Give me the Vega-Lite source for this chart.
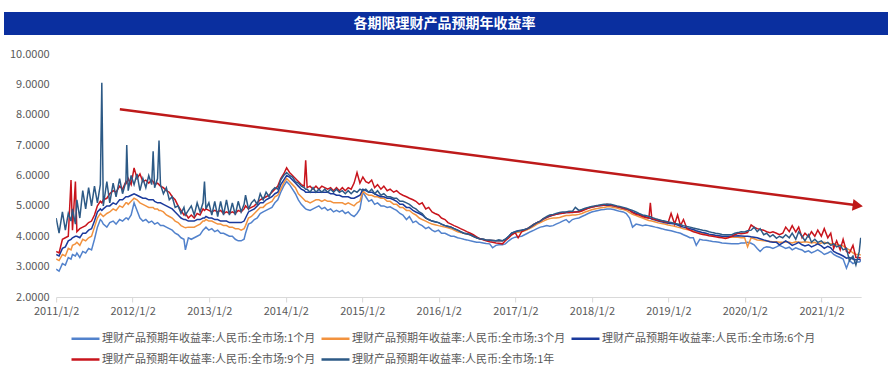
{
  "$schema": "https://vega.github.io/schema/vega-lite/v6.json",
  "padding": {"left": 4, "top": 12, "right": 4, "bottom": 0},
  "background": "white",
  "spacing": 13,
  "center": true,
  "config": {"view": {"stroke": null}, "font": "Noto Sans CJK SC"},
  "datasets": {
    "arrow": [{"d": "2011-11-02", "v": 8.18}, {"d": "2021-06-20", "v": 5.02}],
    "head": [{"d": "2021-06-24", "v": 5.01}],
    "rates": [
{"d":"2011-01-02","a":2.92,"b":3.25,"c":3.4,"e":3.5,"f":4.6},
{"d":"2011-01-16","a":2.85,"b":3.2,"c":3.35,"e":3.45,"f":4.1},
{"d":"2011-02-01","a":3.1,"b":3.4,"c":3.6,"e":3.9,"f":4.8},
{"d":"2011-02-15","a":3.05,"b":3.35,"c":3.65,"e":3.95,"f":4.2},
{"d":"2011-03-01","a":3.3,"b":3.6,"c":3.85,"e":4.0,"f":4.75},
{"d":"2011-03-14","a":3.25,"b":3.55,"c":3.9,"e":5.85,"f":4.5},
{"d":"2011-03-21","a":3.4,"b":3.7,"c":3.95,"e":4.2,"f":4.9},
{"d":"2011-04-04","a":3.35,"b":3.75,"c":4.0,"e":5.8,"f":4.4},
{"d":"2011-04-11","a":3.45,"b":3.8,"c":4.0,"e":4.15,"f":5.2},
{"d":"2011-04-25","a":3.3,"b":3.7,"c":3.95,"e":4.25,"f":4.6},
{"d":"2011-05-09","a":3.5,"b":3.9,"c":4.1,"e":4.3,"f":5.5},
{"d":"2011-05-23","a":3.45,"b":3.85,"c":4.1,"e":4.35,"f":4.9},
{"d":"2011-06-06","a":3.6,"b":3.95,"c":4.2,"e":4.45,"f":5.6},
{"d":"2011-06-20","a":3.55,"b":4.0,"c":4.25,"e":4.5,"f":5.0},
{"d":"2011-07-04","a":3.9,"b":4.3,"c":4.5,"e":4.7,"f":5.65},
{"d":"2011-07-18","a":4.3,"b":4.6,"c":4.8,"e":5.0,"f":5.1},
{"d":"2011-08-01","a":4.55,"b":4.75,"c":4.9,"e":5.15,"f":5.7},
{"d":"2011-08-08","a":4.5,"b":4.7,"c":4.85,"e":5.1,"f":9.05},
{"d":"2011-08-15","a":4.4,"b":4.65,"c":4.9,"e":5.2,"f":5.0},
{"d":"2011-09-01","a":4.3,"b":4.75,"c":5.0,"e":5.25,"f":5.8},
{"d":"2011-09-15","a":4.45,"b":4.8,"c":5.0,"e":5.4,"f":5.1},
{"d":"2011-10-01","a":4.5,"b":4.9,"c":5.1,"e":5.5,"f":5.75},
{"d":"2011-10-15","a":4.4,"b":4.85,"c":5.05,"e":5.45,"f":5.3},
{"d":"2011-11-01","a":4.55,"b":5.0,"c":5.2,"e":5.65,"f":5.9},
{"d":"2011-11-15","a":4.5,"b":4.95,"c":5.2,"e":5.55,"f":5.4},
{"d":"2011-12-01","a":4.6,"b":5.1,"c":5.3,"e":5.8,"f":5.8},
{"d":"2011-12-05","a":4.6,"b":5.1,"c":5.3,"e":5.75,"f":7.0},
{"d":"2011-12-12","a":4.55,"b":5.05,"c":5.3,"e":5.9,"f":5.5},
{"d":"2011-12-26","a":4.7,"b":5.15,"c":5.35,"e":5.7,"f":6.0},
{"d":"2012-01-09","a":5.1,"b":5.25,"c":5.4,"e":6.25,"f":5.7},
{"d":"2012-01-23","a":4.85,"b":5.2,"c":5.35,"e":5.9,"f":6.05},
{"d":"2012-02-06","a":4.6,"b":5.1,"c":5.3,"e":6.05,"f":5.5},
{"d":"2012-02-20","a":4.5,"b":5.05,"c":5.25,"e":5.8,"f":5.9},
{"d":"2012-03-05","a":4.55,"b":5.0,"c":5.25,"e":5.85,"f":5.6},
{"d":"2012-03-19","a":4.45,"b":4.95,"c":5.2,"e":5.75,"f":6.0},
{"d":"2012-04-02","a":4.5,"b":4.95,"c":5.2,"e":5.85,"f":5.7},
{"d":"2012-04-09","a":4.45,"b":4.95,"c":5.2,"e":5.8,"f":6.8},
{"d":"2012-04-16","a":4.4,"b":4.9,"c":5.15,"e":5.7,"f":5.6},
{"d":"2012-04-30","a":4.45,"b":4.9,"c":5.1,"e":5.75,"f":5.9},
{"d":"2012-05-07","a":4.4,"b":4.85,"c":5.1,"e":5.7,"f":7.15},
{"d":"2012-05-14","a":4.35,"b":4.85,"c":5.1,"e":5.65,"f":5.7},
{"d":"2012-05-28","a":4.35,"b":4.8,"c":5.05,"e":5.6,"f":5.4},
{"d":"2012-06-11","a":4.3,"b":4.7,"c":5.0,"e":5.5,"f":5.6},
{"d":"2012-06-25","a":4.25,"b":4.65,"c":4.95,"e":5.45,"f":5.2},
{"d":"2012-07-09","a":4.2,"b":4.6,"c":4.9,"e":5.3,"f":5.3},
{"d":"2012-07-23","a":4.1,"b":4.5,"c":4.8,"e":5.2,"f":4.95},
{"d":"2012-08-06","a":4.05,"b":4.45,"c":4.7,"e":5.0,"f":5.0},
{"d":"2012-08-20","a":3.95,"b":4.35,"c":4.6,"e":4.85,"f":4.75},
{"d":"2012-09-03","a":3.9,"b":4.3,"c":4.55,"e":4.7,"f":4.95},
{"d":"2012-09-10","a":3.55,"b":4.28,"c":4.55,"e":4.75,"f":4.7},
{"d":"2012-09-24","a":3.95,"b":4.3,"c":4.5,"e":4.6,"f":4.85},
{"d":"2012-10-08","a":3.9,"b":4.3,"c":4.5,"e":4.7,"f":5.0},
{"d":"2012-10-22","a":3.95,"b":4.3,"c":4.5,"e":4.6,"f":4.7},
{"d":"2012-11-05","a":4.0,"b":4.35,"c":4.55,"e":4.75,"f":5.1},
{"d":"2012-11-19","a":4.05,"b":4.4,"c":4.55,"e":4.7,"f":4.8},
{"d":"2012-12-03","a":4.2,"b":4.5,"c":4.6,"e":4.9,"f":5.1},
{"d":"2012-12-10","a":4.25,"b":4.5,"c":4.6,"e":4.85,"f":5.8},
{"d":"2012-12-17","a":4.3,"b":4.55,"c":4.65,"e":4.9,"f":4.9},
{"d":"2012-12-31","a":4.2,"b":4.5,"c":4.6,"e":4.85,"f":5.1},
{"d":"2013-01-14","a":4.25,"b":4.5,"c":4.6,"e":4.8,"f":4.7},
{"d":"2013-01-28","a":4.15,"b":4.45,"c":4.55,"e":4.85,"f":5.15},
{"d":"2013-02-11","a":4.2,"b":4.4,"c":4.55,"e":4.8,"f":4.65},
{"d":"2013-02-25","a":4.1,"b":4.4,"c":4.5,"e":4.85,"f":5.15},
{"d":"2013-03-11","a":4.1,"b":4.35,"c":4.5,"e":4.75,"f":4.7},
{"d":"2013-03-25","a":4.05,"b":4.35,"c":4.5,"e":4.8,"f":5.2},
{"d":"2013-04-08","a":4.0,"b":4.3,"c":4.45,"e":4.75,"f":4.7},
{"d":"2013-04-22","a":4.0,"b":4.3,"c":4.45,"e":4.8,"f":5.1},
{"d":"2013-05-06","a":3.9,"b":4.25,"c":4.45,"e":4.75,"f":4.7},
{"d":"2013-05-20","a":3.85,"b":4.25,"c":4.45,"e":4.85,"f":5.15},
{"d":"2013-06-03","a":3.85,"b":4.2,"c":4.45,"e":4.8,"f":4.8},
{"d":"2013-06-17","a":3.9,"b":4.25,"c":4.5,"e":4.9,"f":5.05},
{"d":"2013-06-24","a":4.1,"b":4.35,"c":4.6,"e":5.0,"f":5.35},
{"d":"2013-07-08","a":4.4,"b":4.6,"c":4.8,"e":4.9,"f":4.9},
{"d":"2013-07-22","a":4.45,"b":4.65,"c":4.85,"e":4.95,"f":5.1},
{"d":"2013-08-05","a":4.55,"b":4.75,"c":4.9,"e":5.0,"f":5.2},
{"d":"2013-08-19","a":4.6,"b":4.85,"c":5.0,"e":5.1,"f":5.05},
{"d":"2013-09-02","a":4.75,"b":4.95,"c":5.1,"e":5.2,"f":5.4},
{"d":"2013-09-16","a":4.8,"b":4.95,"c":5.1,"e":5.25,"f":5.2},
{"d":"2013-09-30","a":4.85,"b":5.05,"c":5.2,"e":5.3,"f":5.45},
{"d":"2013-10-14","a":4.9,"b":5.1,"c":5.25,"e":5.35,"f":5.3},
{"d":"2013-10-28","a":4.95,"b":5.15,"c":5.3,"e":5.45,"f":5.5},
{"d":"2013-11-11","a":5.1,"b":5.3,"c":5.4,"e":5.55,"f":5.6},
{"d":"2013-11-25","a":5.2,"b":5.35,"c":5.45,"e":5.65,"f":5.55},
{"d":"2013-12-09","a":5.45,"b":5.55,"c":5.7,"e":5.9,"f":5.85},
{"d":"2013-12-23","a":5.65,"b":5.75,"c":5.85,"e":6.05,"f":6.0},
{"d":"2014-01-06","a":5.8,"b":5.9,"c":6.0,"e":6.25,"f":6.1},
{"d":"2014-01-20","a":5.7,"b":5.8,"c":5.95,"e":6.1,"f":6.0},
{"d":"2014-02-03","a":5.55,"b":5.7,"c":5.85,"e":6.0,"f":5.95},
{"d":"2014-02-17","a":5.4,"b":5.6,"c":5.75,"e":5.9,"f":5.8},
{"d":"2014-03-03","a":5.2,"b":5.4,"c":5.65,"e":5.8,"f":5.75},
{"d":"2014-03-17","a":5.05,"b":5.3,"c":5.55,"e":5.7,"f":5.65},
{"d":"2014-03-31","a":4.95,"b":5.2,"c":5.5,"e":5.65,"f":5.6},
{"d":"2014-04-07","a":4.9,"b":5.15,"c":5.45,"e":6.5,"f":5.55},
{"d":"2014-04-14","a":4.88,"b":5.15,"c":5.45,"e":5.6,"f":5.55},
{"d":"2014-04-28","a":4.85,"b":5.1,"c":5.45,"e":5.65,"f":5.45},
{"d":"2014-05-12","a":4.9,"b":5.15,"c":5.45,"e":5.55,"f":5.6},
{"d":"2014-05-26","a":4.95,"b":5.2,"c":5.45,"e":5.65,"f":5.45},
{"d":"2014-06-09","a":5.0,"b":5.2,"c":5.45,"e":5.55,"f":5.55},
{"d":"2014-06-23","a":4.9,"b":5.15,"c":5.45,"e":5.65,"f":5.45},
{"d":"2014-07-07","a":4.95,"b":5.2,"c":5.45,"e":5.6,"f":5.55},
{"d":"2014-07-21","a":4.85,"b":5.15,"c":5.45,"e":5.55,"f":5.45},
{"d":"2014-08-04","a":4.9,"b":5.15,"c":5.4,"e":5.6,"f":5.55},
{"d":"2014-08-18","a":4.8,"b":5.1,"c":5.4,"e":5.5,"f":5.45},
{"d":"2014-09-01","a":4.85,"b":5.1,"c":5.35,"e":5.6,"f":5.55},
{"d":"2014-09-15","a":4.8,"b":5.1,"c":5.35,"e":5.5,"f":5.45},
{"d":"2014-09-29","a":4.85,"b":5.1,"c":5.3,"e":5.6,"f":5.5},
{"d":"2014-10-13","a":4.75,"b":5.05,"c":5.3,"e":5.5,"f":5.4},
{"d":"2014-10-27","a":4.8,"b":5.1,"c":5.3,"e":5.6,"f":5.5},
{"d":"2014-11-10","a":4.7,"b":5.05,"c":5.25,"e":5.55,"f":5.4},
{"d":"2014-11-24","a":4.65,"b":5.0,"c":5.25,"e":5.75,"f":5.5},
{"d":"2014-12-08","a":4.75,"b":5.1,"c":5.3,"e":6.1,"f":5.45},
{"d":"2014-12-22","a":4.9,"b":5.15,"c":5.35,"e":5.75,"f":5.55},
{"d":"2015-01-05","a":5.45,"b":5.5,"c":5.55,"e":5.95,"f":5.5},
{"d":"2015-01-19","a":5.3,"b":5.4,"c":5.5,"e":5.8,"f":5.55},
{"d":"2015-02-02","a":5.15,"b":5.35,"c":5.45,"e":5.75,"f":5.45},
{"d":"2015-02-16","a":5.2,"b":5.35,"c":5.45,"e":5.85,"f":5.55},
{"d":"2015-03-02","a":5.05,"b":5.3,"c":5.4,"e":5.6,"f":5.4},
{"d":"2015-03-16","a":5.1,"b":5.3,"c":5.35,"e":5.7,"f":5.5},
{"d":"2015-04-01","a":5.0,"b":5.25,"c":5.3,"e":5.55,"f":5.35},
{"d":"2015-04-15","a":5.0,"b":5.25,"c":5.3,"e":5.65,"f":5.4},
{"d":"2015-05-01","a":4.95,"b":5.15,"c":5.25,"e":5.5,"f":5.3},
{"d":"2015-05-15","a":4.97,"b":5.15,"c":5.25,"e":5.55,"f":5.3},
{"d":"2015-06-01","a":4.9,"b":5.05,"c":5.2,"e":5.45,"f":5.25},
{"d":"2015-06-15","a":4.85,"b":5.05,"c":5.15,"e":5.5,"f":5.25},
{"d":"2015-07-01","a":4.75,"b":4.95,"c":5.05,"e":5.4,"f":5.15},
{"d":"2015-07-15","a":4.7,"b":4.95,"c":5.05,"e":5.35,"f":5.15},
{"d":"2015-08-01","a":4.55,"b":4.85,"c":4.95,"e":5.3,"f":5.1},
{"d":"2015-08-15","a":4.65,"b":4.85,"c":4.95,"e":5.25,"f":5.05},
{"d":"2015-09-01","a":4.45,"b":4.75,"c":4.85,"e":5.2,"f":4.95},
{"d":"2015-09-15","a":4.5,"b":4.7,"c":4.8,"e":5.15,"f":4.9},
{"d":"2015-10-01","a":4.4,"b":4.6,"c":4.75,"e":5.05,"f":4.8},
{"d":"2015-10-15","a":4.35,"b":4.55,"c":4.7,"e":5.1,"f":4.75},
{"d":"2015-11-01","a":4.25,"b":4.5,"c":4.6,"e":4.9,"f":4.6},
{"d":"2015-11-15","a":4.3,"b":4.45,"c":4.55,"e":4.95,"f":4.55},
{"d":"2015-12-01","a":4.2,"b":4.4,"c":4.5,"e":4.8,"f":4.5},
{"d":"2015-12-15","a":4.15,"b":4.38,"c":4.48,"e":4.75,"f":4.48},
{"d":"2016-01-01","a":4.2,"b":4.35,"c":4.45,"e":4.7,"f":4.45},
{"d":"2016-01-15","a":4.1,"b":4.33,"c":4.4,"e":4.6,"f":4.4},
{"d":"2016-02-01","a":4.1,"b":4.3,"c":4.35,"e":4.55,"f":4.35},
{"d":"2016-02-15","a":4.05,"b":4.28,"c":4.32,"e":4.45,"f":4.33},
{"d":"2016-03-01","a":4.0,"b":4.25,"c":4.3,"e":4.4,"f":4.3},
{"d":"2016-03-15","a":4.0,"b":4.2,"c":4.25,"e":4.35,"f":4.25},
{"d":"2016-04-01","a":3.95,"b":4.15,"c":4.2,"e":4.3,"f":4.2},
{"d":"2016-04-15","a":3.93,"b":4.12,"c":4.15,"e":4.25,"f":4.15},
{"d":"2016-05-01","a":3.9,"b":4.1,"c":4.1,"e":4.2,"f":4.1},
{"d":"2016-05-15","a":3.88,"b":4.07,"c":4.08,"e":4.15,"f":4.08},
{"d":"2016-06-01","a":3.85,"b":4.05,"c":4.05,"e":4.1,"f":4.05},
{"d":"2016-06-15","a":3.83,"b":4.0,"c":4.0,"e":4.05,"f":4.0},
{"d":"2016-07-01","a":3.8,"b":3.95,"c":3.95,"e":3.98,"f":3.95},
{"d":"2016-07-15","a":3.8,"b":3.92,"c":3.92,"e":3.92,"f":3.92},
{"d":"2016-08-01","a":3.78,"b":3.9,"c":3.9,"e":3.88,"f":3.9},
{"d":"2016-08-15","a":3.76,"b":3.88,"c":3.88,"e":3.85,"f":3.88},
{"d":"2016-09-01","a":3.75,"b":3.87,"c":3.87,"e":3.82,"f":3.87},
{"d":"2016-09-15","a":3.62,"b":3.86,"c":3.86,"e":3.8,"f":3.86},
{"d":"2016-10-01","a":3.7,"b":3.85,"c":3.85,"e":3.78,"f":3.85},
{"d":"2016-10-15","a":3.72,"b":3.84,"c":3.85,"e":3.77,"f":3.88},
{"d":"2016-11-01","a":3.72,"b":3.85,"c":3.85,"e":3.75,"f":3.85},
{"d":"2016-11-15","a":3.75,"b":3.88,"c":3.9,"e":3.85,"f":3.9},
{"d":"2016-12-01","a":3.85,"b":3.95,"c":4.0,"e":3.95,"f":4.0},
{"d":"2016-12-15","a":3.92,"b":4.05,"c":4.1,"e":4.05,"f":4.1},
{"d":"2017-01-01","a":3.97,"b":4.12,"c":4.15,"e":4.12,"f":4.15},
{"d":"2017-01-15","a":3.98,"b":4.13,"c":4.18,"e":3.95,"f":4.17},
{"d":"2017-02-01","a":4.0,"b":4.15,"c":4.2,"e":4.15,"f":4.2},
{"d":"2017-02-15","a":4.05,"b":4.18,"c":4.22,"e":4.2,"f":4.22},
{"d":"2017-03-01","a":4.1,"b":4.22,"c":4.25,"e":4.25,"f":4.25},
{"d":"2017-03-15","a":4.15,"b":4.27,"c":4.3,"e":4.32,"f":4.32},
{"d":"2017-04-01","a":4.2,"b":4.33,"c":4.38,"e":4.4,"f":4.4},
{"d":"2017-04-15","a":4.25,"b":4.4,"c":4.45,"e":4.45,"f":4.45},
{"d":"2017-05-01","a":4.3,"b":4.45,"c":4.5,"e":4.5,"f":4.5},
{"d":"2017-05-15","a":4.32,"b":4.5,"c":4.57,"e":4.57,"f":4.58},
{"d":"2017-06-01","a":4.35,"b":4.55,"c":4.62,"e":4.62,"f":4.65},
{"d":"2017-06-15","a":4.33,"b":4.58,"c":4.66,"e":4.67,"f":4.7},
{"d":"2017-07-01","a":4.35,"b":4.6,"c":4.7,"e":4.7,"f":4.72},
{"d":"2017-07-15","a":4.4,"b":4.6,"c":4.72,"e":4.72,"f":4.75},
{"d":"2017-08-01","a":4.45,"b":4.62,"c":4.75,"e":4.75,"f":4.78},
{"d":"2017-08-15","a":4.5,"b":4.65,"c":4.76,"e":4.76,"f":4.8},
{"d":"2017-09-01","a":4.55,"b":4.68,"c":4.78,"e":4.78,"f":4.8},
{"d":"2017-09-15","a":4.45,"b":4.68,"c":4.78,"e":4.78,"f":4.82},
{"d":"2017-10-01","a":4.55,"b":4.7,"c":4.8,"e":4.78,"f":4.82},
{"d":"2017-10-15","a":4.58,"b":4.7,"c":4.8,"e":4.8,"f":4.95},
{"d":"2017-11-01","a":4.6,"b":4.72,"c":4.82,"e":4.8,"f":4.85},
{"d":"2017-11-15","a":4.65,"b":4.75,"c":4.85,"e":4.83,"f":4.88},
{"d":"2017-12-01","a":4.7,"b":4.8,"c":4.9,"e":4.88,"f":4.92},
{"d":"2017-12-15","a":4.75,"b":4.83,"c":4.93,"e":4.92,"f":4.95},
{"d":"2018-01-01","a":4.8,"b":4.87,"c":4.97,"e":4.95,"f":4.98},
{"d":"2018-01-15","a":4.82,"b":4.9,"c":4.98,"e":4.98,"f":5.0},
{"d":"2018-02-01","a":4.85,"b":4.92,"c":5.0,"e":5.0,"f":5.02},
{"d":"2018-02-15","a":4.87,"b":4.94,"c":5.01,"e":5.01,"f":5.04},
{"d":"2018-03-01","a":4.88,"b":4.95,"c":5.02,"e":5.02,"f":5.05},
{"d":"2018-03-15","a":4.9,"b":4.97,"c":5.02,"e":5.05,"f":5.05},
{"d":"2018-04-01","a":4.9,"b":4.97,"c":5.02,"e":5.03,"f":5.05},
{"d":"2018-04-15","a":4.88,"b":4.95,"c":5.0,"e":5.0,"f":5.03},
{"d":"2018-05-01","a":4.85,"b":4.93,"c":4.98,"e":4.98,"f":5.0},
{"d":"2018-05-15","a":4.82,"b":4.9,"c":4.95,"e":4.95,"f":4.98},
{"d":"2018-06-01","a":4.8,"b":4.88,"c":4.92,"e":4.92,"f":4.95},
{"d":"2018-06-15","a":4.75,"b":4.85,"c":4.9,"e":4.9,"f":4.92},
{"d":"2018-07-01","a":4.6,"b":4.78,"c":4.85,"e":4.85,"f":4.88},
{"d":"2018-07-15","a":4.3,"b":4.72,"c":4.8,"e":4.78,"f":4.85},
{"d":"2018-08-01","a":4.4,"b":4.68,"c":4.75,"e":4.72,"f":4.8},
{"d":"2018-08-15","a":4.38,"b":4.64,"c":4.72,"e":4.7,"f":4.75},
{"d":"2018-09-01","a":4.35,"b":4.6,"c":4.68,"e":4.65,"f":4.7},
{"d":"2018-09-15","a":4.37,"b":4.56,"c":4.64,"e":4.62,"f":4.68},
{"d":"2018-10-01","a":4.35,"b":4.52,"c":4.6,"e":4.6,"f":4.65},
{"d":"2018-10-08","a":4.34,"b":4.51,"c":4.59,"e":5.1,"f":4.64},
{"d":"2018-10-15","a":4.33,"b":4.5,"c":4.57,"e":4.58,"f":4.62},
{"d":"2018-11-01","a":4.3,"b":4.47,"c":4.53,"e":4.55,"f":4.58},
{"d":"2018-11-15","a":4.28,"b":4.44,"c":4.5,"e":4.52,"f":4.55},
{"d":"2018-12-01","a":4.25,"b":4.42,"c":4.48,"e":4.5,"f":4.52},
{"d":"2018-12-15","a":4.22,"b":4.4,"c":4.45,"e":4.48,"f":4.5},
{"d":"2019-01-01","a":4.2,"b":4.37,"c":4.43,"e":4.45,"f":4.47},
{"d":"2019-01-15","a":4.18,"b":4.35,"c":4.42,"e":4.75,"f":4.45},
{"d":"2019-02-01","a":4.15,"b":4.33,"c":4.4,"e":4.4,"f":4.42},
{"d":"2019-02-15","a":4.12,"b":4.3,"c":4.37,"e":4.7,"f":4.4},
{"d":"2019-03-01","a":4.1,"b":4.28,"c":4.33,"e":4.35,"f":4.38},
{"d":"2019-03-15","a":4.05,"b":4.25,"c":4.3,"e":4.55,"f":4.35},
{"d":"2019-04-01","a":4.0,"b":4.22,"c":4.27,"e":4.25,"f":4.32},
{"d":"2019-04-15","a":3.95,"b":4.2,"c":4.25,"e":4.2,"f":4.3},
{"d":"2019-05-01","a":3.95,"b":4.17,"c":4.22,"e":4.15,"f":4.27},
{"d":"2019-05-15","a":3.7,"b":4.15,"c":4.18,"e":4.12,"f":4.25},
{"d":"2019-06-01","a":3.9,"b":4.12,"c":4.15,"e":4.08,"f":4.22},
{"d":"2019-06-15","a":3.88,"b":4.1,"c":4.12,"e":4.06,"f":4.2},
{"d":"2019-07-01","a":3.87,"b":4.08,"c":4.1,"e":4.04,"f":4.18},
{"d":"2019-07-15","a":3.85,"b":4.05,"c":4.07,"e":4.02,"f":4.15},
{"d":"2019-08-01","a":3.83,"b":4.03,"c":4.05,"e":4.0,"f":4.12},
{"d":"2019-08-15","a":3.82,"b":4.02,"c":4.03,"e":3.98,"f":4.1},
{"d":"2019-09-01","a":3.8,"b":4.0,"c":4.02,"e":3.96,"f":4.08},
{"d":"2019-09-15","a":3.78,"b":3.98,"c":4.0,"e":3.95,"f":4.06},
{"d":"2019-10-01","a":3.77,"b":3.97,"c":4.0,"e":3.93,"f":4.05},
{"d":"2019-10-15","a":3.76,"b":3.97,"c":4.0,"e":3.95,"f":4.05},
{"d":"2019-11-01","a":3.75,"b":3.97,"c":4.0,"e":4.0,"f":4.05},
{"d":"2019-11-15","a":3.75,"b":3.97,"c":4.01,"e":4.05,"f":4.1},
{"d":"2019-12-01","a":3.75,"b":3.97,"c":4.02,"e":4.1,"f":4.12},
{"d":"2019-12-15","a":3.78,"b":3.95,"c":4.01,"e":4.08,"f":4.15},
{"d":"2020-01-01","a":3.78,"b":3.95,"c":4.0,"e":4.1,"f":4.14},
{"d":"2020-01-15","a":3.8,"b":3.65,"c":4.0,"e":4.12,"f":4.18},
{"d":"2020-02-01","a":3.77,"b":3.95,"c":3.98,"e":4.37,"f":4.2},
{"d":"2020-02-15","a":3.72,"b":3.92,"c":3.97,"e":4.3,"f":4.3},
{"d":"2020-03-01","a":3.6,"b":3.88,"c":3.95,"e":4.25,"f":4.15},
{"d":"2020-03-15","a":3.5,"b":3.87,"c":3.92,"e":4.22,"f":4.25},
{"d":"2020-04-01","a":3.62,"b":3.85,"c":3.88,"e":4.2,"f":4.05},
{"d":"2020-04-15","a":3.65,"b":3.84,"c":3.85,"e":4.15,"f":4.1},
{"d":"2020-05-01","a":3.64,"b":3.83,"c":3.82,"e":4.12,"f":3.98},
{"d":"2020-05-15","a":3.6,"b":3.82,"c":3.8,"e":4.15,"f":4.05},
{"d":"2020-06-01","a":3.65,"b":3.82,"c":3.8,"e":4.1,"f":3.93},
{"d":"2020-06-15","a":3.7,"b":3.8,"c":3.72,"e":4.05,"f":4.0},
{"d":"2020-07-01","a":3.65,"b":3.8,"c":3.78,"e":4.1,"f":3.95},
{"d":"2020-07-15","a":3.6,"b":3.82,"c":3.85,"e":4.3,"f":4.05},
{"d":"2020-08-01","a":3.64,"b":3.8,"c":3.77,"e":4.15,"f":3.95},
{"d":"2020-08-15","a":3.55,"b":3.78,"c":3.7,"e":4.35,"f":4.1},
{"d":"2020-09-01","a":3.62,"b":3.82,"c":3.75,"e":4.14,"f":3.9},
{"d":"2020-09-15","a":3.58,"b":3.8,"c":3.8,"e":4.3,"f":4.15},
{"d":"2020-10-01","a":3.55,"b":3.8,"c":3.72,"e":3.95,"f":4.0},
{"d":"2020-10-15","a":3.48,"b":3.82,"c":3.68,"e":4.1,"f":3.85},
{"d":"2020-11-01","a":3.52,"b":3.8,"c":3.72,"e":3.98,"f":4.05},
{"d":"2020-11-15","a":3.45,"b":3.78,"c":3.65,"e":4.15,"f":3.8},
{"d":"2020-12-01","a":3.5,"b":3.8,"c":3.7,"e":4.0,"f":3.9},
{"d":"2020-12-15","a":3.55,"b":3.75,"c":3.75,"e":4.2,"f":3.8},
{"d":"2021-01-01","a":3.48,"b":3.78,"c":3.68,"e":4.0,"f":3.85},
{"d":"2021-01-15","a":3.4,"b":3.8,"c":3.6,"e":4.25,"f":3.75},
{"d":"2021-02-01","a":3.45,"b":3.77,"c":3.67,"e":3.95,"f":3.8},
{"d":"2021-02-15","a":3.5,"b":3.75,"c":3.62,"e":4.1,"f":3.7},
{"d":"2021-03-01","a":3.4,"b":3.75,"c":3.5,"e":3.6,"f":3.75},
{"d":"2021-03-15","a":3.35,"b":3.72,"c":3.45,"e":3.85,"f":3.65},
{"d":"2021-04-01","a":3.3,"b":3.7,"c":3.4,"e":3.55,"f":3.7},
{"d":"2021-04-15","a":3.25,"b":3.68,"c":3.35,"e":3.9,"f":3.55},
{"d":"2021-05-01","a":2.95,"b":3.6,"c":3.28,"e":3.5,"f":3.6},
{"d":"2021-05-15","a":3.2,"b":3.55,"c":3.3,"e":3.45,"f":3.2},
{"d":"2021-06-01","a":3.1,"b":3.45,"c":3.25,"e":3.7,"f":3.35},
{"d":"2021-06-15","a":3.15,"b":3.4,"c":3.22,"e":3.3,"f":3.05},
{"d":"2021-07-01","a":3.15,"b":3.4,"c":3.25,"e":3.3,"f":3.5},
{"d":"2021-07-08","a":3.18,"b":3.38,"c":3.2,"e":3.28,"f":3.95}
    ]
  },
  "vconcat": [
    {
      "width": 911,
      "height": 23,
      "view": {"fill": "#0A2F9F", "stroke": null},
      "data": {"values": [{"t": "各期限理财产品预期年收益率"}]},
      "mark": {"type": "text", "color": "white", "fontSize": 14, "fontWeight": "bold", "font": "Noto Sans CJK SC", "align": "center", "baseline": "middle", "dx": -15},
      "encoding": {"text": {"field": "t"}}
    },
    {
      "width": 805,
      "height": 243,
      "encoding": {
        "x": {
          "field": "d", "type": "temporal",
          "scale": {"type": "utc", "domain": [{"year": 2011, "month": 1, "date": 2, "utc": true}, {"year": 2021, "month": 7, "date": 10, "utc": true}]},
          "axis": {
            "title": null, "grid": false,
            "values": [
              {"year": 2011, "month": 1, "date": 2, "utc": true},
              {"year": 2012, "month": 1, "date": 2, "utc": true},
              {"year": 2013, "month": 1, "date": 2, "utc": true},
              {"year": 2014, "month": 1, "date": 2, "utc": true},
              {"year": 2015, "month": 1, "date": 2, "utc": true},
              {"year": 2016, "month": 1, "date": 2, "utc": true},
              {"year": 2017, "month": 1, "date": 2, "utc": true},
              {"year": 2018, "month": 1, "date": 2, "utc": true},
              {"year": 2019, "month": 1, "date": 2, "utc": true},
              {"year": 2020, "month": 1, "date": 2, "utc": true},
              {"year": 2021, "month": 1, "date": 2, "utc": true}
            ],
            "labelExpr": "utcFormat(datum.value, '%Y/%-m/%-d')",
            "labelFontSize": 11, "labelColor": "#595959", "labelFont": "Noto Sans CJK SC",
            "domainColor": "#D9D9D9", "tickColor": "#D9D9D9", "tickSize": 5, "labelPadding": 3, "labelFlush": false, "labelOverlap": false
          }
        },
        "y": {
          "field": "v", "type": "quantitative",
          "scale": {"domain": [2, 10], "nice": false, "zero": false},
          "axis": {
            "title": null, "grid": false, "domain": false, "ticks": false,
            "values": [2, 3, 4, 5, 6, 7, 8, 9, 10], "format": ".4f", "labelOverlap": false,
            "labelFontSize": 11, "labelColor": "#595959", "labelFont": "Noto Sans CJK SC",
            "labelPadding": 7
          }
        }
      },
      "layer": [
        {
          "data": {"name": "rates"},
          "transform": [{"fold": ["a", "b", "c", "e", "f"], "as": ["k", "v"]}],
          "mark": {"type": "line", "strokeWidth": 1.5, "clip": true},
          "encoding": {
            "color": {
              "field": "k", "type": "nominal",
              "scale": {"domain": ["a", "b", "c", "e", "f"], "range": ["#5282CC", "#F2923E", "#1B3A9C", "#C8141C", "#2D5A86"]},
              "legend": {
                "title": null, "orient": "none", "direction": "horizontal", "legendX": 66, "legendY": 311,
                "columns": 3, "gridAlign": "all", "columnPadding": 0, "rowPadding": 0,
                "symbolType": "stroke", "symbolSize": 784, "symbolStrokeWidth": 2.5,
                "labelFontSize": 11, "labelColor": "#595959", "labelFont": "Noto Sans CJK SC", "labelOffset": 1, "labelLimit": 400,
                "labelExpr": "{'a':'理财产品预期年收益率:人民币:全市场:1个月','b':'理财产品预期年收益率:人民币:全市场:3个月','c':'理财产品预期年收益率:人民币:全市场:6个月','e':'理财产品预期年收益率:人民币:全市场:9个月','f':'理财产品预期年收益率:人民币:全市场:1年'}[datum.label]"
              }
            }
          }
        },
        {
          "data": {"name": "arrow"},
          "mark": {"type": "line", "color": "#BE1A1A", "strokeWidth": 2.5, "clip": false},
          "encoding": {}
        },
        {
          "data": {"name": "head"},
          "mark": {"type": "point", "shape": "triangle-right", "filled": true, "color": "#BE1A1A", "size": 140, "angle": 7.5, "opacity": 1, "clip": false},
          "encoding": {}
        }
      ]
    }
  ]
}
